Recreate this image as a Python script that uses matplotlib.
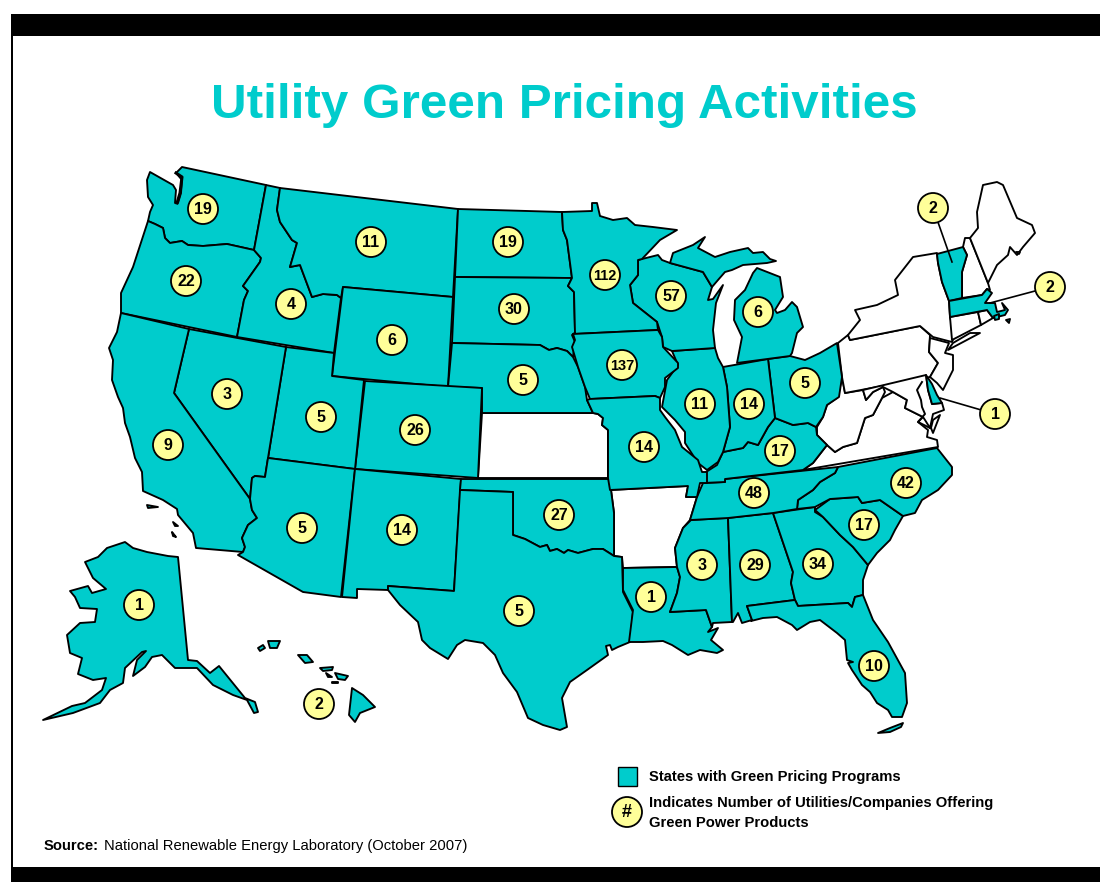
import matplotlib
matplotlib.use("Agg")
import matplotlib.pyplot as plt
from matplotlib.patches import Polygon, Circle, Rectangle

plt.rcParams['font.family'] = ['Liberation Sans', 'DejaVu Sans']

TITLE = "Utility Green Pricing Activities"
LEGEND_SQUARE = "States with Green Pricing Programs"
LEGEND_CIRCLE = ["Indicates Number of Utilities/Companies Offering", "Green Power Products"]
SOURCE_BOLD = "Source:"
SOURCE_TEXT = "National Renewable Energy Laboratory (October 2007)"

TEAL = "#00CCCC"
YELLOW = "#FFFF99"

# Outlines
WA = [(182,167),(266,185),(254,250),(227,244),(203,246),(188,245),(182,241),(170,243),(165,238),(163,228),(155,224),(148,221),(150,212),(153,205),(148,197),(147,180),(150,172),(173,185),(176,190),(175,203),(178,203),(181,193),(182,180),(176,173)]
OR = [(148,221),(155,224),(163,228),(165,238),(170,243),(182,241),(188,245),(203,246),(227,244),(254,250),(261,258),(260,262),(243,286),(248,291),(244,300),(237,337),(121,313),(121,293),(133,267)]
ID = [(266,185),(280,188),(277,210),(280,222),(292,240),(297,243),(290,267),(300,265),(312,297),(323,294),(337,295),(341,298),(334,353),(237,337),(244,300),(248,291),(243,286),(260,262),(261,258),(254,250)]
MT = [(280,188),(458,209),(453,297),(343,287),(341,298),(337,295),(323,294),(312,297),(300,265),(290,267),(297,243),(292,240),(280,222),(277,210)]
WY = [(343,287),(453,297),(448,387),(332,376)]
ND = [(458,209),(562,212),(563,230),(567,240),(572,278),(455,277)]
SD = [(455,277),(572,278),(568,286),(574,292),(575,333),(572,335),(575,342),(573,357),(567,351),(557,348),(549,350),(540,345),(452,343)]
NE = [(452,343),(540,345),(549,350),(557,348),(567,351),(573,357),(578,367),(585,387),(587,400),(593,413),(482,413),(482,388),(448,387)]
KS = [(482,413),(593,413),(598,414),(603,418),(602,425),(608,430),(608,478),(478,478)]
CO = [(365,381),(482,388),(478,478),(355,469)]
UT = [(286,347),(334,353),(332,376),(364,380),(355,469),(268,458)]
NV = [(189,329),(286,347),(268,458),(265,477),(255,476),(252,478),(250,499),(174,393)]
CA = [(121,313),(189,329),(174,393),(250,499),(252,510),(257,518),(248,525),(242,538),(245,547),(243,552),(196,548),(193,533),(178,515),(177,509),(163,500),(143,491),(142,472),(135,458),(130,437),(125,423),(123,408),(118,397),(112,380),(113,360),(109,348),(117,332)]
AZ = [(268,458),(355,469),(341,597),(303,592),(238,555),(243,552),(245,547),(242,538),(248,525),(257,518),(252,510),(250,499),(252,478),(255,476),(265,477)]
NM = [(355,469),(461,479),(454,591),(388,586),(388,590),(357,589),(357,598),(342,597)]
OK = [(461,479),(609,479),(611,490),(614,513),(614,556),(603,549),(593,549),(578,553),(568,550),(564,553),(557,549),(550,551),(547,545),(540,547),(525,539),(513,535),(513,492),(460,490)]
TX = [(460,490),(513,492),(513,535),(525,539),(540,547),(547,545),(550,551),(557,549),(564,553),(568,550),(578,553),(593,549),(603,549),(614,556),(622,557),(623,592),(633,612),(630,642),(618,647),(612,650),(610,645),(606,646),(608,655),(587,670),(570,682),(562,698),(567,727),(560,730),(543,725),(528,718),(517,692),(503,673),(495,655),(483,643),(465,640),(457,645),(448,659),(430,648),(422,640),(418,622),(400,605),(388,590),(388,586),(454,591)]
AR = [(610,490),(688,486),(686,497),(697,497),(690,520),(683,528),(675,548),(677,567),(623,568),(622,557),(614,556),(614,513),(611,490)]
LA = [(623,568),(677,567),(680,577),(677,593),(670,612),(706,610),(712,627),(708,632),(718,628),(711,640),(723,650),(717,653),(700,650),(688,655),(680,650),(672,645),(663,641),(643,642),(629,642),(633,610),(623,590)]
MS = [(691,520),(728,518),(732,622),(713,623),(712,627),(706,610),(670,612),(677,593),(680,577),(677,567),(675,548),(683,528)]
AL = [(728,518),(773,513),(793,572),(791,583),(795,600),(747,606),(752,620),(742,623),(738,613),(733,622),(732,622)]
GA = [(773,513),(815,507),(815,512),(823,517),(840,535),(853,547),(868,565),(863,580),(863,595),(855,597),(852,607),(848,603),(798,606),(795,600),(791,583),(793,572)]
FL = [(747,606),(795,600),(798,606),(848,603),(852,607),(855,597),(863,595),(873,620),(888,642),(905,673),(907,703),(902,717),(892,717),(888,710),(877,703),(870,692),(862,685),(852,670),(848,663),(853,662),(847,660),(845,640),(837,633),(820,620),(810,622),(797,630),(792,625),(777,617),(763,618),(751,621),(752,620)]
KEYS = [(878,733),(890,728),(903,723),(901,727),(890,732)]
SC = [(815,510),(830,499),(858,497),(862,503),(880,500),(903,516),(895,530),(890,540),(877,553),(868,565),(853,547),(840,535),(823,517)]
NC = [(838,467),(937,448),(952,467),(952,475),(938,490),(922,500),(915,513),(903,516),(880,500),(862,503),(858,497),(830,499),(815,507),(797,509),(798,500),(813,490),(820,482),(835,473)]
TN = [(703,483),(725,482),(725,479),(838,467),(835,473),(820,482),(813,490),(798,500),(797,509),(773,513),(728,518),(691,520),(690,520),(697,497)]
KY = [(775,418),(793,425),(808,423),(816,427),(817,435),(827,445),(813,463),(803,470),(725,479),(725,482),(703,483),(706,472),(717,465),(723,452),(743,448),(748,442),(758,445),(768,427)]
VA = [(803,470),(813,463),(827,445),(835,452),(843,447),(857,443),(865,418),(873,415),(882,398),(893,392),(907,400),(905,408),(923,417),(918,422),(928,430),(927,437),(937,440),(938,447)]
WV = [(817,427),(823,417),(827,405),(838,397),(842,377),(845,393),(863,390),(866,400),(873,392),(883,387),(885,392),(882,398),(873,415),(865,418),(857,443),(843,447),(835,452),(827,445),(817,435)]
OH = [(768,359),(790,356),(805,360),(820,353),(837,343),(842,377),(839,397),(827,405),(823,417),(816,427),(808,423),(793,425),(775,418)]
IN = [(723,367),(768,359),(775,418),(768,427),(758,445),(748,442),(743,448),(723,452),(730,427),(727,387)]
IL = [(672,351),(715,348),(718,358),(723,367),(727,387),(730,427),(723,452),(718,462),(707,470),(698,463),(685,443),(685,432),(675,420),(662,407),(667,380),(678,365)]
WI = [(638,260),(650,257),(658,255),(662,260),(670,263),(703,272),(712,287),(708,300),(713,299),(723,285),(716,303),(713,330),(715,348),(672,351),(663,347),(662,337),(657,322),(633,303),(630,285),(638,275)]
MI_UPPER = [(670,263),(673,253),(693,245),(705,237),(698,248),(715,257),(730,252),(748,248),(753,253),(763,252),(770,259),(776,261),(767,263),(755,264),(743,265),(732,270),(725,272),(718,280),(712,287),(703,272)]
MI_LOWER = [(757,268),(780,277),(783,297),(775,310),(777,313),(785,310),(792,302),(797,307),(803,327),(797,333),(792,353),(790,356),(737,363),(742,337),(734,320),(735,300),(745,290),(753,273)]
MN = [(562,212),(592,211),(592,203),(597,203),(600,216),(613,220),(627,218),(635,225),(653,227),(677,230),(660,240),(642,259),(638,260),(638,275),(630,285),(633,303),(657,322),(658,330),(573,334),(575,333),(574,292),(568,286),(572,278),(567,240),(563,230)]
IA = [(573,334),(658,330),(662,337),(663,347),(678,363),(678,368),(665,378),(665,387),(660,398),(655,396),(590,399),(585,387),(578,367),(572,347),(575,340)]
MO = [(590,399),(655,396),(660,398),(660,410),(665,417),(675,430),(682,447),(698,460),(702,472),(707,472),(707,483),(700,483),(697,497),(686,497),(688,486),(610,490),(608,478),(608,430),(602,425),(603,418),(598,414),(593,413),(587,400)]
PA = [(838,343),(848,335),(850,340),(920,326),(930,335),(929,352),(938,363),(930,377),(845,393),(842,377)]
NY = [(848,335),(860,320),(855,310),(877,305),(898,295),(895,280),(913,257),(937,253),(938,263),(942,282),(949,301),(950,317),(955,335),(952,342),(933,337),(920,326),(850,340)]
LONG_ISLAND = [(948,350),(980,333),(970,333),(953,343)]
NJ = [(930,338),(949,343),(945,353),(953,355),(953,370),(943,390),(937,383),(930,377),(938,363),(929,352)]
VT = [(937,254),(963,247),(967,255),(962,272),(962,298),(949,301),(942,282),(938,263)]
NH = [(963,247),(965,238),(970,238),(988,283),(990,290),(987,289),(982,295),(962,298),(962,272),(967,255)]
ME = [(970,238),(978,228),(977,212),(983,185),(997,182),(1003,185),(1017,218),(1032,225),(1035,233),(1023,247),(1017,255),(1010,247),(1008,255),(997,265),(992,275),(988,283)]
ME_ISLAND = [(1016,252),(1020,252),(1019,254)]
MA = [(949,301),(982,295),(987,289),(992,293),(985,303),(995,303),(997,312),(1005,310),(1002,303),(1008,310),(1005,315),(993,318),(987,310),(950,317)]
MA_ISLAND_1 = [(994,316),(999,314),(999,319),(995,320)]
MA_ISLAND_2 = [(1006,320),(1010,319),(1009,323)]
CT = [(950,317),(978,312),(981,325),(952,340)]
RI = [(978,312),(987,310),(993,318),(981,325)]
DE = [(926,375),(932,384),(937,395),(942,403),(932,404),(928,390)]
MD = [(863,390),(926,375),(928,390),(932,404),(942,403),(944,410),(933,414),(930,428),(925,420),(923,417),(905,408),(907,400),(893,392),(883,387),(873,392),(866,400)]
VA_SHORE = [(933,433),(940,415),(933,420),(931,428)]
BAY_LINE = [(922,382),(917,390),(921,400),(922,407),(925,414),(918,422),(926,426),(930,428)]
PUGET_LINE = [(176,173),(182,177),(180,193),(177,203)]
AK = [(178,557),(188,660),(197,661),(210,673),(219,666),(245,698),(255,702),(258,712),(254,713),(247,700),(233,695),(213,685),(197,668),(175,668),(162,655),(152,657),(145,667),(133,676),(137,660),(146,651),(146,651),(142,652),(125,668),(123,683),(110,690),(100,703),(73,713),(43,720),(72,706),(85,703),(102,690),(106,678),(93,680),(78,674),(82,658),(70,653),(67,635),(80,623),(95,622),(97,609),(80,608),(75,597),(70,591),(88,586),(92,593),(106,589),(93,578),(85,562),(98,557),(107,548),(125,542),(133,548),(147,552),(168,556)]
HI_BIG = [(352,688),(363,695),(375,707),(360,713),(355,722),(349,715)]
HI_MAUI = [(335,673),(348,676),(345,680),(338,679)]
HI_MOLOKAI = [(320,668),(333,667),(332,670),(323,671)]
HI_OAHU = [(298,655),(307,655),(313,662),(305,663)]
HI_KAUAI = [(268,641),(280,641),(277,648),(270,648)]
HI_NIIHAU = [(258,648),(263,645),(265,648),(260,651)]
HI_LANAI = [(326,673),(332,677),(328,677)]
HI_KAHOOLAWE = [(332,682),(338,682),(338,683),(332,683)]
CH_ISLAND_1 = [(147,505),(158,507),(148,508)]
CH_ISLAND_2 = [(173,522),(178,526),(175,526)]
CH_ISLAND_3 = [(172,532),(176,537),(173,536)]

TEAL_SHAPES = [WA, OR, ID, MT, WY, ND, SD, NE, CO, UT, NV, CA, AZ, NM, OK, TX, LA, MS, AL, GA, FL, KEYS,
               SC, NC, TN, KY, OH, IN, IL, WI, MI_UPPER, MI_LOWER, MN, IA, MO, VT, MA, MA_ISLAND_1, MA_ISLAND_2, DE, AK,
               HI_BIG, HI_MAUI, HI_MOLOKAI, HI_OAHU, HI_KAUAI, HI_NIIHAU, HI_LANAI, HI_KAHOOLAWE,
               CH_ISLAND_1, CH_ISLAND_2, CH_ISLAND_3]
WHITE_SHAPES = [KS, AR, VA, WV, PA, NY, LONG_ISLAND, NJ, NH, ME, ME_ISLAND, CT, RI, MD, VA_SHORE]

# Utility counts and where their badges sit
COUNTS = [19, 22, 4, 11, 19, 30, 112, 57, 6, 6, 137, 5, 3, 5, 26, 11, 14, 5, 14, 17, 9, 5, 14, 27, 48, 42, 17, 34, 29, 3, 1, 5, 10, 1, 2, 2, 2, 1]
BADGE_X = [203, 186, 291, 371, 508, 514, 605, 671, 758, 392, 622, 523, 227, 321, 415, 700, 749, 805, 644, 780, 168, 302, 402, 559, 754, 906, 864, 818, 755, 702, 651, 519, 874, 139, 319, 933, 1050, 995]
BADGE_Y = [209, 281, 304, 242, 242, 309, 275, 296, 312, 340, 365, 380, 394, 417, 430, 404, 404, 383, 447, 451, 445, 528, 530, 515, 493, 483, 525, 564, 565, 565, 597, 611, 666, 605, 704, 208, 287, 414]
LEADERS = [((933, 208), (952, 262)), ((1050, 287), (990, 303)), ((995, 414), (940, 398))]

fig = plt.figure(figsize=(11, 8.82), dpi=100, facecolor="white")
ax = fig.add_axes([0, 0, 1, 1])
ax.set_xlim(0, 1100)
ax.set_ylim(882, 0)
ax.axis("off")

# frame
ax.add_patch(Rectangle((11, 14), 1089, 22, fc="black", ec="none"))
ax.add_patch(Rectangle((11, 867), 1089, 15, fc="black", ec="none"))
ax.add_patch(Rectangle((11, 14), 2, 853, fc="black", ec="none"))

ax.text(564, 118, TITLE, color=TEAL, fontsize=35.6, fontweight="bold", ha="center", va="baseline")

LW = 1.35
for shape in WHITE_SHAPES:
    ax.add_patch(Polygon(shape, closed=True, fc="white", ec="black", lw=LW, joinstyle="round", zorder=2))
for shape in TEAL_SHAPES:
    ax.add_patch(Polygon(shape, closed=True, fc=TEAL, ec="black", lw=LW, joinstyle="round", zorder=3))
ax.plot(*zip(*BAY_LINE), color="black", lw=1.4, zorder=4)
ax.plot(*zip(*PUGET_LINE), color="black", lw=2.2, zorder=4)

for a, b in LEADERS:
    ax.plot([a[0], b[0]], [a[1], b[1]], color="black", lw=1.2, zorder=5)

for n, x, y in zip(COUNTS, BADGE_X, BADGE_Y):
    ax.add_patch(Circle((x, y), 15, fc=YELLOW, ec="black", lw=1.3, zorder=6))
    ax.text(x, y + 0.5, str(n), fontsize=10.5 if n > 99 else 11.5, fontweight="bold",
            ha="center", va="center", color="black", zorder=7)

# legend
ax.add_patch(Rectangle((618, 767), 19, 19, fc=TEAL, ec="black", lw=1.0, zorder=6))
ax.add_patch(Circle((627, 812), 15, fc=YELLOW, ec="black", lw=1.3, zorder=6))
ax.text(627, 812.5, "#", fontsize=13, fontweight="bold", ha="center", va="center", zorder=7)
ax.text(649, 781, LEGEND_SQUARE, fontsize=10.65, fontweight="bold", va="baseline")
ax.text(649, 807, LEGEND_CIRCLE[0], fontsize=10.65, fontweight="bold", va="baseline")
ax.text(649, 827, LEGEND_CIRCLE[1], fontsize=10.65, fontweight="bold", va="baseline")

ax.text(44, 850, SOURCE_BOLD, fontsize=10.65, fontweight="bold", va="baseline")
ax.text(104, 850, SOURCE_TEXT, fontsize=10.65, va="baseline")

fig.savefig("out.png", dpi=100, facecolor="white")
